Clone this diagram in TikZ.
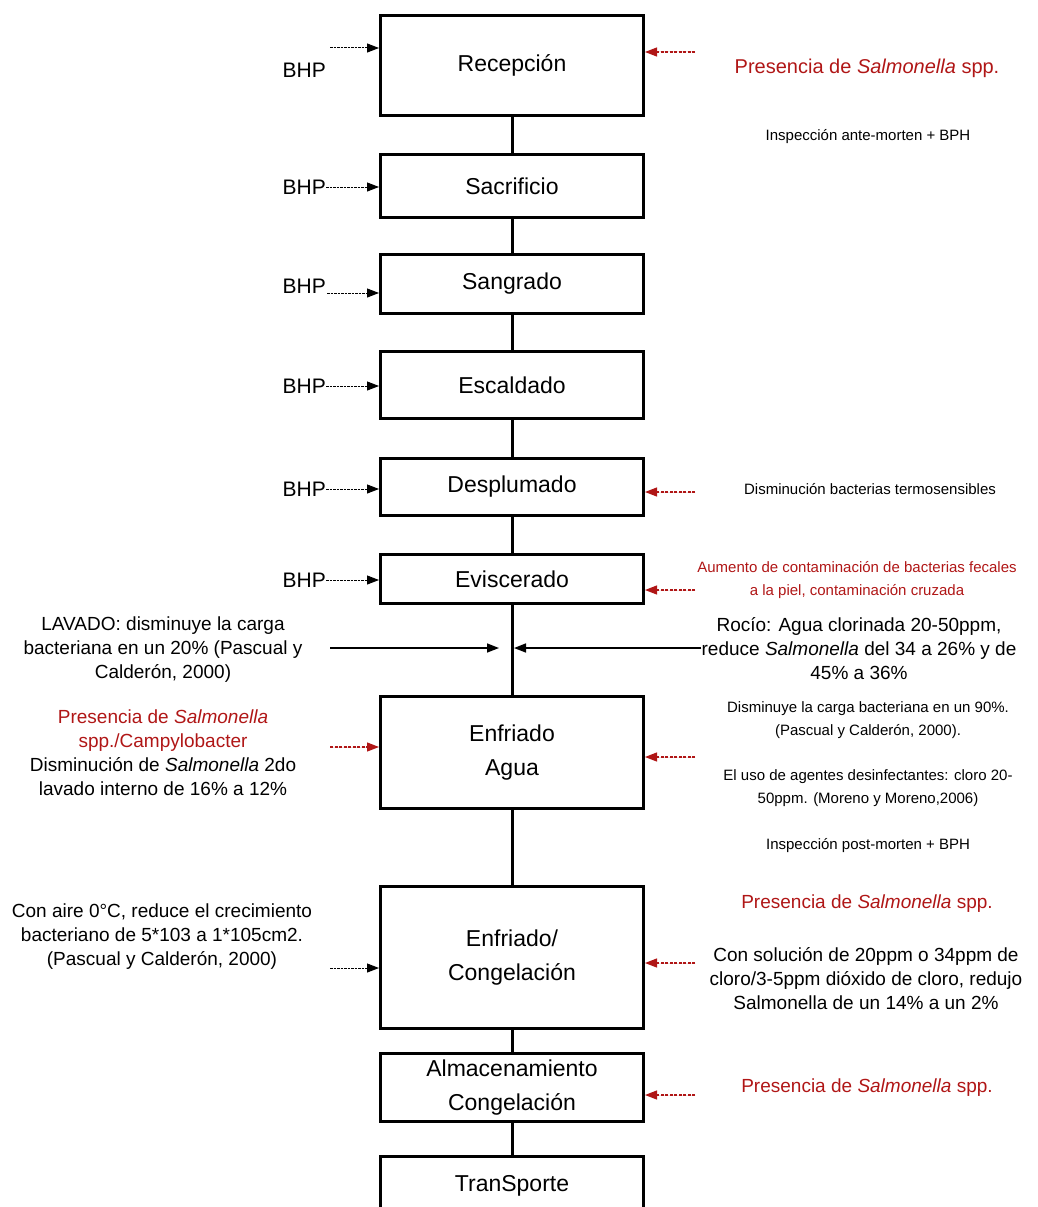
\documentclass[tikz,border=0pt]{standalone}
\usepackage{fontspec}
\setmainfont{Liberation Sans}
\usetikzlibrary{arrows.meta, positioning, calc}
\definecolor{salrojo}{RGB}{176,22,22}
\tikzset{paso/.style={draw, line width=3pt, minimum width=263pt, align=center, inner sep=0pt, font=\fontsize{23}{34}\selectfont},
  nota/.style={align=center, inner sep=0pt, font=\fontsize{19}{24}\selectfont},
  notita/.style={align=center, inner sep=0pt, font=\fontsize{15}{23}\selectfont},
  bhp/.style={inner sep=0pt, font=\fontsize{21}{25}\selectfont},
  punta/.style={-{Triangle[length=12pt,width=9pt]}},
  flecha/.style={punta, line width=1pt, dash pattern=on 2.5pt off 1pt},
  roja/.style={flecha, draw=salrojo, fill=salrojo, line width=1.2pt, dash pattern=on 3pt off 1.5pt},
  lleno/.style={punta, line width=1.5pt}}

\begin{document}
\begin{tikzpicture}[x=1pt, y=-1pt]
    \useasboundingbox (0,0) rectangle (1037,1207);

    % etapas
    \node[paso, minimum height=100pt] (recep) at (512,65.5) {Recepción};
    \node[paso, minimum height=63pt] (sacri) at (512,186) {Sacrificio};
    \node[paso, minimum height=59pt] (sangr) at (512,284) {Sangrado};
    \node[paso, minimum height=67pt] (escal) at (512,385) {Escaldado};
    \node[paso, minimum height=57pt] (despl) at (512,487) {Desplumado};
    \node[paso, minimum height=49pt] (evisc) at (512,579) {Eviscerado};
    \node[paso, minimum height=112pt] (agua) at (512,752.5) {Enfriado\\Agua};
    \node[paso, minimum height=142pt] (conge) at (512,957.5) {Enfriado/\\Congelación};
    \node[paso, minimum height=68pt] (almac) at (512,1087.5) {Almacenamiento\\Congelación};
    \node[paso, minimum height=60pt] (trans) at (512,1186) {TranSporte};

    \draw[line width=3pt] (recep.south) -- (sacri.north);
    \draw[line width=3pt] (sacri.south) -- (sangr.north);
    \draw[line width=3pt] (sangr.south) -- (escal.north);
    \draw[line width=3pt] (escal.south) -- (despl.north);
    \draw[line width=3pt] (despl.south) -- (evisc.north);
    \draw[line width=3pt] (evisc.south) -- (agua.north);
    \draw[line width=3pt] (agua.south) -- (conge.north);
    \draw[line width=3pt] (conge.south) -- (almac.north);
    \draw[line width=3pt] (almac.south) -- (trans.north);

    % BHP
    \node[bhp, anchor=east] (bhp1) at (326,70) {BHP};
    \node[bhp, anchor=east] (bhp2) at (326,187) {BHP};
    \node[bhp, anchor=east] (bhp3) at (326,286) {BHP};
    \node[bhp, anchor=east] (bhp4) at (326,386) {BHP};
    \node[bhp, anchor=east] (bhp5) at (326,489) {BHP};
    \node[bhp, anchor=east] (bhp6) at (326,580) {BHP};
    \coordinate (b1) at (330,48);
    \coordinate (b3) at (327,293);
    \draw[flecha] (b1) -- (recep.west |- b1);
    \draw[flecha] (bhp2.east) -- (sacri.west |- bhp2.east);
    \draw[flecha] (b3) -- (sangr.west |- b3);
    \draw[flecha] (bhp4.east) -- (escal.west |- bhp4.east);
    \draw[flecha] (bhp5.east) -- (despl.west |- bhp5.east);
    \draw[flecha] (bhp6.east) -- (evisc.west |- bhp6.east);

    % lado derecho
    \node[nota, text=salrojo, font=\fontsize{20}{24}\selectfont] (pres1) at (867,68) {Presencia de \textit{Salmonella} spp.};
    \node[notita] (insp1) at (868,137) {Inspección ante-morten + BPH};
    \node[notita] (termo) at (870,489) {Disminución bacterias termosensibles};
    \node[notita, text=salrojo] (aumen) at (857,580) {Aumento de contaminación de bacterias fecales\\a la piel, contaminación cruzada};
    \node[nota] (rocio) at (859,649) {Rocío: Agua clorinada 20-50ppm,\\reduce \textit{Salmonella} del 34 a 26\% y de\\45\% a 36\%};
    \node[notita] (dismi) at (868,720) {Disminuye la carga bacteriana en un 90\%.\\(Pascual y Calderón, 2000).};
    \node[notita] (desin) at (868,788) {El uso de agentes desinfectantes: cloro 20-\\50ppm. (Moreno y Moreno,2006)};
    \node[notita] (insp2) at (868,846) {Inspección post-morten + BPH};
    \node[nota, text=salrojo] (pres2) at (867,904) {Presencia de \textit{Salmonella} spp.};
    \node[nota] (soluc) at (866,979) {Con solución de 20ppm o 34ppm de\\cloro/3-5ppm dióxido de cloro, redujo\\Salmonella de un 14\% a un 2\%};
    \node[nota, text=salrojo] (pres3) at (867,1088) {Presencia de \textit{Salmonella} spp.};

    \coordinate (r1) at (695,52);
    \coordinate (r2) at (695,492);
    \coordinate (r3) at (695,590);
    \coordinate (r4) at (695,757);
    \coordinate (r5) at (695,963);
    \coordinate (r6) at (695,1095);
    \draw[roja] (r1) -- (recep.east |- r1);
    \draw[roja] (r2) -- (despl.east |- r2);
    \draw[roja] (r3) -- (evisc.east |- r3);
    \draw[roja] (r4) -- (agua.east |- r4);
    \draw[roja] (r5) -- (conge.east |- r5);
    \draw[roja] (r6) -- (almac.east |- r6);

    % lado izquierdo
    \node[nota] (lavado) at (163,650) {LAVADO: disminuye la carga\\bacteriana en un 20\% (Pascual y\\Calderón, 2000)};
    \node[nota] (campy) at (163,753) {\textcolor{salrojo}{Presencia de \textit{Salmonella}}\\\textcolor{salrojo}{spp./Campylobacter}\\Disminución de \textit{Salmonella} 2do\\lavado interno de 16\% a 12\%};
    \node[nota] (aire) at (162,937) {Con aire 0°C, reduce el crecimiento\\bacteriano de 5*103 a 1*105cm2.\\(Pascual y Calderón, 2000)};

    \coordinate (junta) at (512,648);
    \coordinate (l1) at (330,648);
    \coordinate (l2) at (330,747);
    \coordinate (l3) at (330,968);
    \draw[lleno] (l1) -- ([xshift=-13pt]junta);
    \draw[lleno] (rocio.west |- junta) -- ([xshift=2pt]junta);
    \draw[roja] (l2) -- (agua.west |- l2);
    \draw[flecha] (l3) -- (conge.west |- l3);
\end{tikzpicture}
\end{document}
